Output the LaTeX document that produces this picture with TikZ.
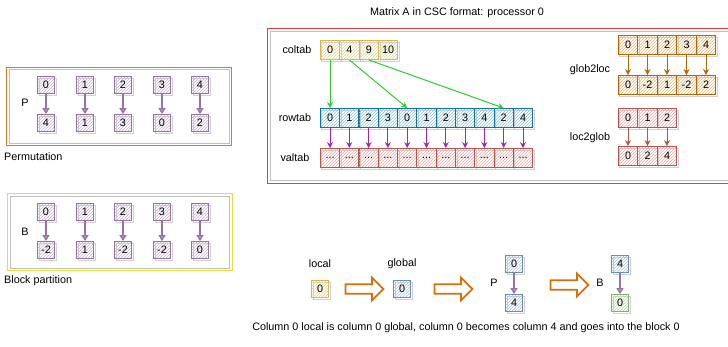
\documentclass[tikz,border=0pt]{standalone}
\usepackage{fontspec}
\setmainfont{Liberation Sans}
\usetikzlibrary{patterns,shapes.arrows,arrows.meta,shadows}
\definecolor{purp}{HTML}{9673A6}
\definecolor{purpF}{HTML}{C7B3D1}
\definecolor{yel}{HTML}{D6B656}
\definecolor{yelF}{HTML}{E8D48F}
\definecolor{blu}{HTML}{10739E}
\definecolor{bluF}{HTML}{8CC3DD}
\definecolor{lblu}{HTML}{6C8EBF}
\definecolor{lbluF}{HTML}{A9BEDD}
\definecolor{redd}{HTML}{B85450}
\definecolor{reddF}{HTML}{E8A9A6}
\definecolor{org}{HTML}{B46504}
\definecolor{orgF}{HTML}{E8B87A}
\definecolor{grn}{HTML}{82B366}
\definecolor{grnF}{HTML}{B9D6A9}
\definecolor{bigorg}{HTML}{D9772B}
\definecolor{bigyel}{HTML}{E2E03A}
\definecolor{bigred}{HTML}{F03C3C}
\definecolor{greenarr}{HTML}{2ECC2E}
\definecolor{magarr}{HTML}{A326B0}
\definecolor{arrorg}{HTML}{D6700F}
\tikzset{
  cell/.style n args={2}{draw=#1, line width=0.9pt, pattern=north east lines,
    pattern color=#2, minimum width=17pt, minimum height=17pt, inner sep=0pt,
    drop shadow={opacity=1, fill=white, draw=black!18, line width=0.8pt,
      shadow xshift=1.5pt, shadow yshift=-1.8pt}},
  acell/.style n args={2}{cell={#1}{#2}, minimum width=19.4pt, minimum height=19pt},
  lbl/.style={inner sep=0pt},
  parrow/.style={draw=purp, line width=1.4pt, -{Triangle[length=6pt,width=7pt,fill=purpF]}},
  garrow/.style={draw=greenarr, line width=1pt, -{Stealth[length=6pt,width=6pt]}},
  marrow/.style={draw=magarr, line width=1pt, -{Stealth[length=6pt,width=6pt]}},
  oarrow/.style={draw=org, line width=1pt, -{Stealth[length=6pt,width=6pt]}},
  rarrow/.style={draw=redd, line width=1pt, -{Stealth[length=6pt,width=6pt]}},
  bigarrow/.style={single arrow, draw=arrorg, line width=1.8pt, fill=white,
    minimum height=38pt, minimum width=23pt, single arrow head extend=4pt,
    inner sep=2pt},
}
\begin{document}
\begin{tikzpicture}[x=1pt,y=-1pt,font=\fontsize{10.8}{13}\selectfont]
\useasboundingbox (0,0) rectangle (728,346);
\clip (0,0) rectangle (728,346);

% ---------- Permutation ----------
\draw[black!25, line width=0.8pt] (9,69) rectangle (229,143);
\draw[bigorg, line width=1pt] (6,67) rectangle (231,145);
\node[lbl, anchor=west] (permlbl) at (4,157) {Permutation};
\node[lbl] (Plbl) at (25,103) {P};
\foreach \x/\a/\b [count=\k from 0] in {46/0/4, 85/1/1, 123/2/3, 162/3/0, 200/4/2} {
  \node[cell={purp}{purpF}] (pt\k) at (\x,85) {\a};
  \node[cell={purp}{purpF}] (pb\k) at (\x,123) {\b};
  \draw[parrow] (pt\k) -- (pb\k);
}

% ---------- Block partition ----------
\draw[black!25, line width=0.8pt] (10,196) rectangle (229,268);
\draw[bigyel, line width=1pt] (7,193) rectangle (232,270);
\node[lbl, anchor=west] (blklbl) at (4,281) {Block partition};
\node[lbl] (Blbl) at (25,232) {B};
\foreach \x/\a/\b [count=\k from 0] in {46/0/-2, 85/1/1, 123/2/-2, 162/3/-2, 200/4/0} {
  \node[cell={purp}{purpF}] (bt\k) at (\x,212) {\a};
  \node[cell={purp}{purpF}] (bb\k) at (\x,250) {\b};
  \draw[parrow] (bt\k) -- (bb\k);
}

% ---------- Matrix A ----------
\node[lbl] (title) at (457,13) {Matrix A in CSC format: processor 0};
\draw[black!25, line width=0.8pt] (270,31) rectangle (740,180);
\draw[bigred, line width=1pt] (267,28) rectangle (740,183);

\node[lbl] (coltablbl) at (297,50) {coltab};
\node[lbl] (rowtablbl) at (295,118) {rowtab};
\node[lbl] (valtablbl) at (295,158) {valtab};
\foreach \v [count=\k from 0] in {0,4,9,10} {
  \node[acell={yel}{yelF}] (c\k) at (330+19.4*\k,50) {\v};
}
\foreach \v [count=\k from 0] in {0,1,2,3,0,1,2,3,4,2,4} {
  \node[acell={blu}{bluF}] (r\k) at (330+19.3*\k,118) {\v};
  \node[acell={redd}{reddF}] (v\k) at (330+19.3*\k,158) {...};
  \draw[marrow] (r\k) -- (v\k);
}
\draw[garrow] (c0.south) -- (r0.north);
\draw[garrow] (c1.south) -- (r4.north);
\draw[garrow] (c2.south) -- (r9.north);

% glob2loc
\node[lbl] (g2llbl) at (590,70) {glob2loc};
\foreach \a/\b [count=\k from 0] in {0/0, 1/-2, 2/1, 3/-2, 4/2} {
  \node[acell={org}{orgF}] (gt\k) at (628+19.5*\k,45) {\a};
  \node[acell={org}{orgF}] (gb\k) at (628+19.5*\k,85) {\b};
  \draw[oarrow] (gt\k) -- (gb\k);
}
% loc2glob
\node[lbl] (l2glbl) at (590,138) {loc2glob};
\foreach \a/\b [count=\k from 0] in {0/0, 1/2, 2/4} {
  \node[acell={redd}{reddF}] (lt\k) at (628+19.5*\k,118) {\a};
  \node[acell={redd}{reddF}] (lb\k) at (628+19.5*\k,156) {\b};
  \draw[rarrow] (lt\k) -- (lb\k);
}

% ---------- Bottom example ----------
\node[lbl] (loclbl) at (320,264) {local};
\node[cell={yel}{yelF}] (loc) at (320,289) {0};
\node[bigarrow] (ba1) at (362,289) {};
\node[lbl] (globlbl) at (402,264) {global};
\node[cell={lblu}{lbluF}] (glob) at (402,289) {0};
\node[bigarrow] (ba2) at (451,289) {};
\node[lbl] (P2) at (494,283) {P};
\node[cell={lblu}{lbluF}] (e1) at (514,264) {0};
\node[cell={lblu}{lbluF}] (e2) at (514,303) {4};
\draw[parrow] (e1) -- (e2);
\node[bigarrow] (ba3) at (567,285) {};
\node[lbl] (B2) at (600,283) {B};
\node[cell={lblu}{lbluF}] (f1) at (620,264) {4};
\node[cell={grn}{grnF}] (f2) at (620,303) {0};
\draw[parrow] (f1) -- (f2);

\node[lbl] (caption) at (466,328) {Column 0 local is column 0 global, column 0 becomes column 4 and goes into the block 0};
\end{tikzpicture}
\end{document}
